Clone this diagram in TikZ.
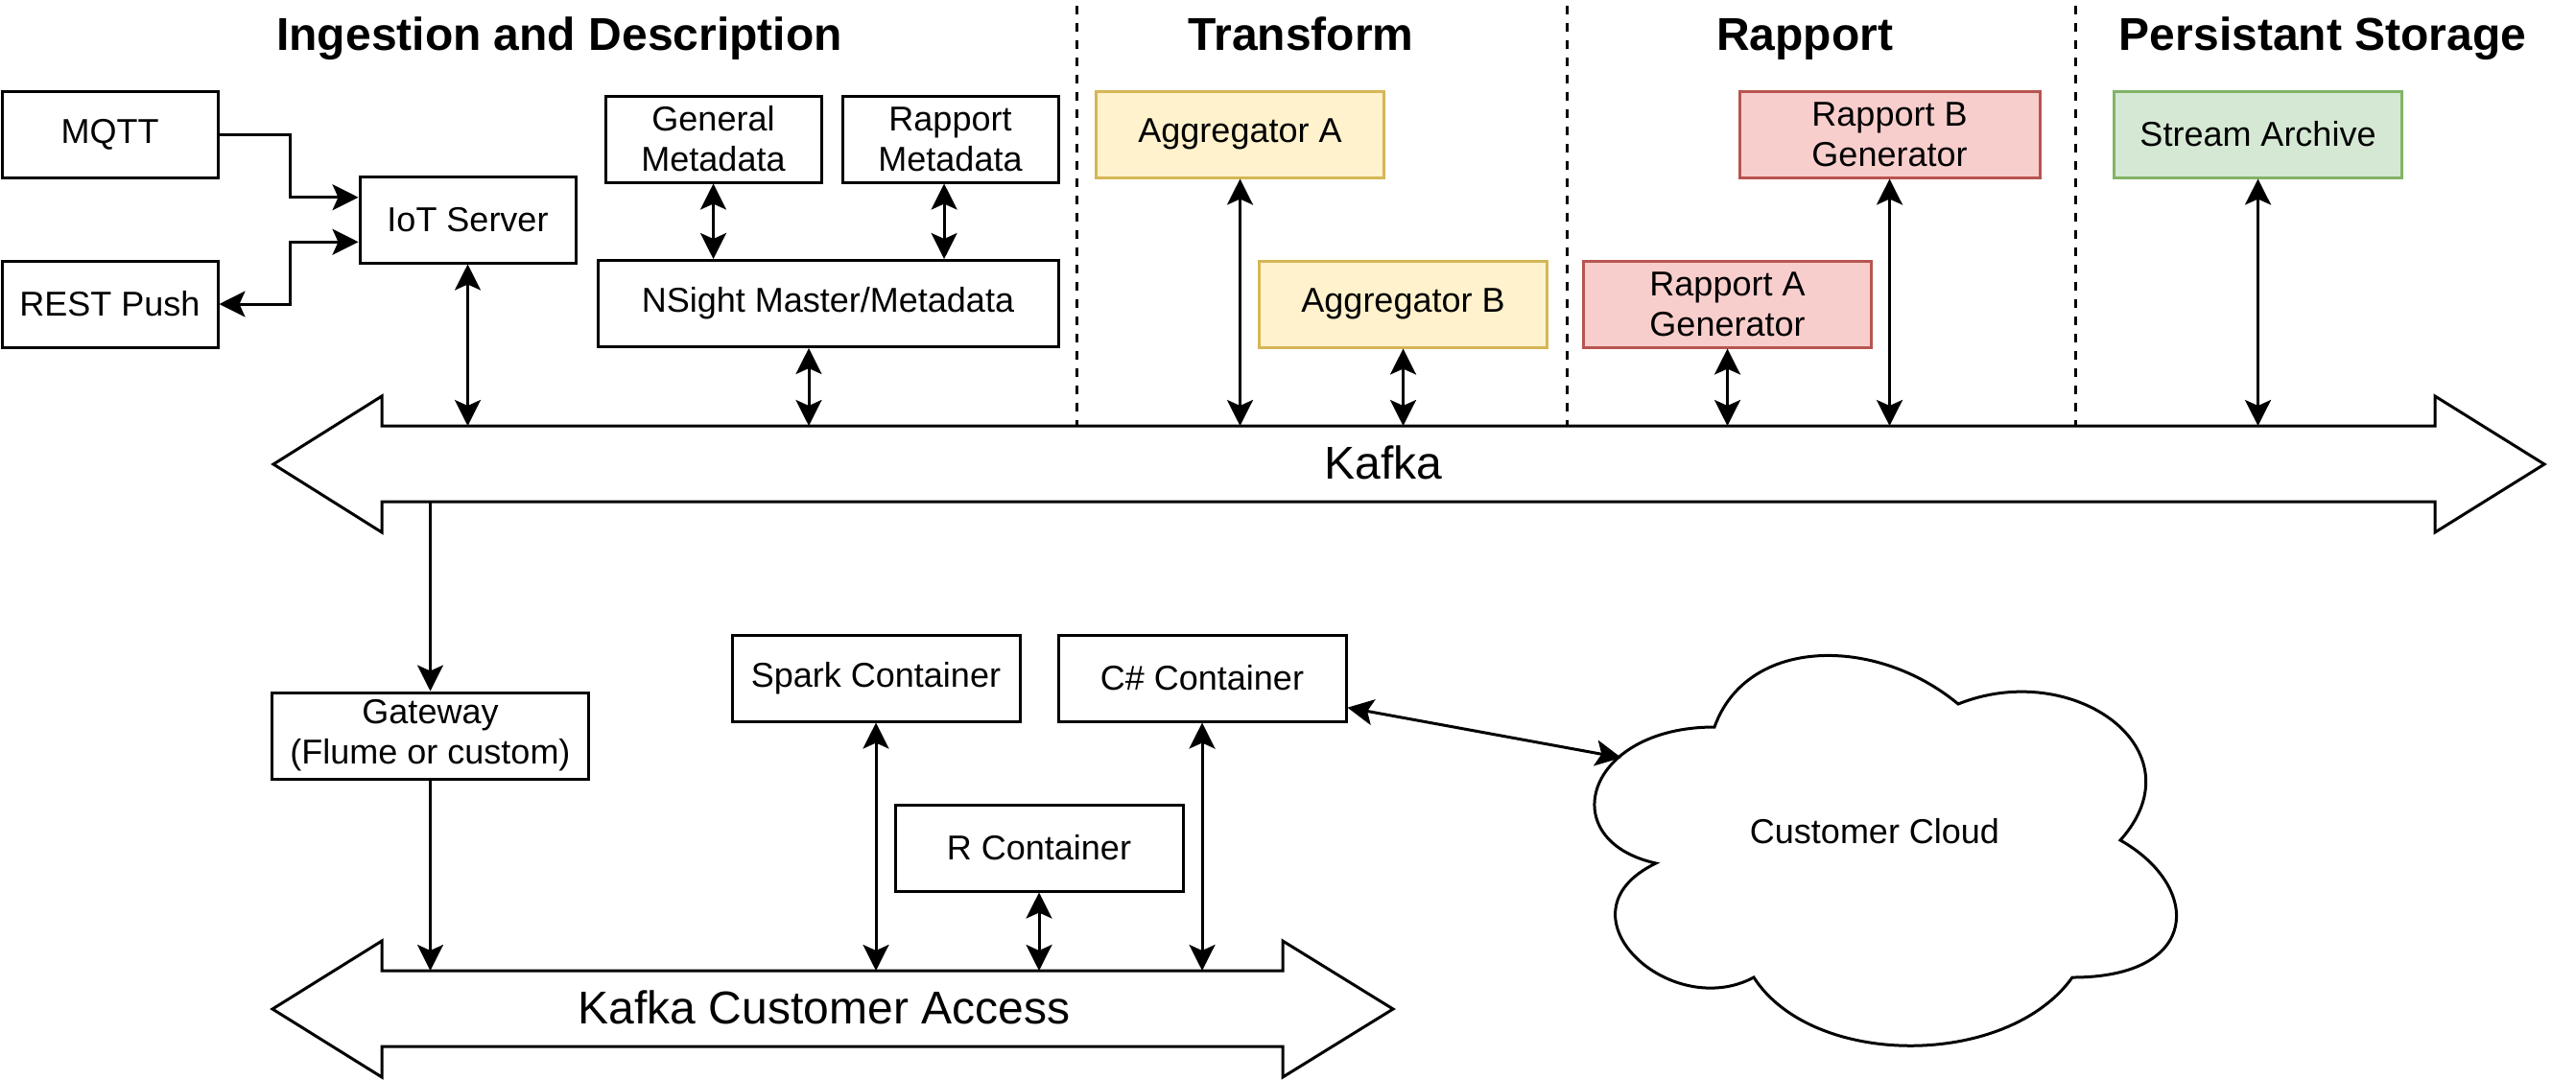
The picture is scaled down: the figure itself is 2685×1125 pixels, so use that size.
\documentclass[tikz,border=0pt]{standalone}
\usepackage{fontspec}
\setmainfont{Liberation Sans}
\usetikzlibrary{arrows.meta,calc}

\definecolor{aggfill}{HTML}{FFF2CC}
\definecolor{aggline}{HTML}{D6B656}
\definecolor{rapfill}{HTML}{F8CECC}
\definecolor{rapline}{HTML}{B85450}
\definecolor{archfill}{HTML}{D5E8D4}
\definecolor{archline}{HTML}{82B366}

\tikzset{every picture/.style={line width=0.75pt}}
\tikzset{
  box/.style={draw, align=center, inner sep=0.75pt, minimum width=75pt, minimum height=22.5pt, font=\fontsize{9}{10.5}\selectfont},
  smallbox/.style={box, minimum width=56.25pt},
  aggbox/.style={box, draw=aggline, fill=aggfill},
  rapbox/.style={box, draw=rapline, fill=rapfill},
  archbox/.style={box, draw=archline, fill=archfill},
  title/.style={anchor=base, inner sep=0.75pt, font=\bfseries\fontsize{12}{14.4}\selectfont},
  buslabel/.style={inner sep=0.75pt, font=\fontsize{12}{14.4}\selectfont},
  divider/.style={dash pattern=on 2.25pt off 2.25pt},
}

\begin{document}
\begin{tikzpicture}[x=0.25pt,y=0.25pt,yscale=-1,xscale=1,>={Stealth[length=6.75pt,width=6.75pt,inset=1.5pt]}]
\useasboundingbox (0,0) rectangle (2685,1125);

% Titles
\node[title] (ingesttitle) at (583,52) {Ingestion and Description};
\node[title] (transtitle) at (1356,52) {Transform};
\node[title] (raptitle) at (1881,52) {Rapport};
\node[title] (storetitle) at (2421,52) {Persistant Storage};

%Dashed separators
\draw[divider] (1122,6) -- (1122,444);
\draw[divider] (1633,6) -- (1633,444);
\draw[divider] (2163,6) -- (2163,444);

%Kafka bus
\draw[fill=white] (285,484) -- (398,413) -- (398,444) -- (2538,444) -- (2538,413) -- (2652,484) -- (2538,555) -- (2538,523) -- (398,523) -- (398,555) -- cycle;
\node[buslabel] (kafka) at (1442,482) {Kafka};
\coordinate (kafkatop) at (0,444);
\coordinate (kafkabot) at (0,523);

%Kafka customer access bus
\draw[fill=white] (284,1052) -- (398,981) -- (398,1012) -- (1337,1012) -- (1337,981) -- (1452,1052) -- (1337,1123) -- (1337,1091) -- (398,1091) -- (398,1123) -- cycle;
\node[buslabel] (kca) at (859,1050) {Kafka Customer Access};
\coordinate (kcatop) at (0,1012);

%Ingestion boxes
\node[smallbox] (mqtt) at (114.5,140) {MQTT};
\node[smallbox] (rest) at (114.5,317) {REST Push};
\node[smallbox] (iot) at (487.5,229) {IoT Server};
\node[smallbox] (genmeta) at (743.5,145) {General\\Metadata};
\node[smallbox] (rapmeta) at (990.5,145) {Rapport\\Metadata};
\node[box, minimum width=120pt] (nsight) at (863,316.5) {NSight Master/Metadata};

%Transform, rapport, storage
\node[aggbox] (agga) at (1292.5,140) {Aggregator A};
\node[aggbox] (aggb) at (1462.5,317) {Aggregator B};
\node[rapbox] (rapa) at (1800.5,317) {Rapport A\\Generator};
\node[rapbox, minimum width=78.25pt] (rapb) at (1969.5,140) {Rapport B\\Generator};
\node[archbox] (archive) at (2353.5,140) {Stream Archive};

%Customer side
\node[box, minimum width=82.5pt] (gateway) at (448.5,767) {Gateway\\(Flume or custom)};
\node[box] (spark) at (913,707) {Spark Container};
\node[box] (csharp) at (1253,707) {C\# Container};
\node[box] (rcont) at (1083,884) {R Container};

%Cloud
\draw (1787,758) .. controls (1652,758) and (1618,876) .. (1726,900) .. controls (1618,952) and (1740,1066) .. (1828,1019) .. controls (1889,1114) and (2092,1114) .. (2160,1019) .. controls (2295,1019) and (2295,924) .. (2210,876) .. controls (2295,781) and (2160,686) .. (2041,734) .. controls (1956,663) and (1821,663) .. (1787,758) -- cycle;
\node[inner sep=0.75pt, font=\fontsize{9}{10.5}\selectfont] (cloud) at (1954,867) {Customer Cloud};
\coordinate (cloudin) at (1690,790);

% Connectors
\coordinate (iotin1) at ($(iot.north west)!0.25!(iot.south west)$);
\coordinate (iotin2) at ($(iot.north west)!0.75!(iot.south west)$);
\draw[->] (mqtt.east) -- ++(74,0) |- (iotin1);
\draw[<->] (rest.east) -- ++(74,0) |- (iotin2);
\draw[<->] (iot.south) -- (iot.south |- kafkatop);
\draw[<->] (genmeta.south) -- (genmeta.south |- nsight.north);
\coordinate (rmout) at ([xshift=-1.6pt]rapmeta.south);
\draw[<->] (rmout) -- (rmout |- nsight.north);
\coordinate (nsout) at ([xshift=-5pt]nsight.south);
\draw[<->] (nsout) -- (nsout |- kafkatop);
\draw[<->] (agga.south) -- (agga.south |- kafkatop);
\draw[<->] (aggb.south) -- (aggb.south |- kafkatop);
\draw[<->] (rapa.south) -- (rapa.south |- kafkatop);
\draw[<->] (rapb.south) -- (rapb.south |- kafkatop);
\draw[<->] (archive.south) -- (archive.south |- kafkatop);

\draw[->] (gateway.north |- kafkabot) -- (gateway.north);
\draw[->] (gateway.south) -- (gateway.south |- kcatop);
\draw[<->] (spark.south) -- (spark.south |- kcatop);
\draw[<->] (rcont.south) -- (rcont.south |- kcatop);
\draw[<->] (csharp.south) -- (csharp.south |- kcatop);
\coordinate (csout) at ($(csharp.north east)!0.83!(csharp.south east)$);
\draw[<->] (csout) -- (cloudin);

\end{tikzpicture}
\end{document}
